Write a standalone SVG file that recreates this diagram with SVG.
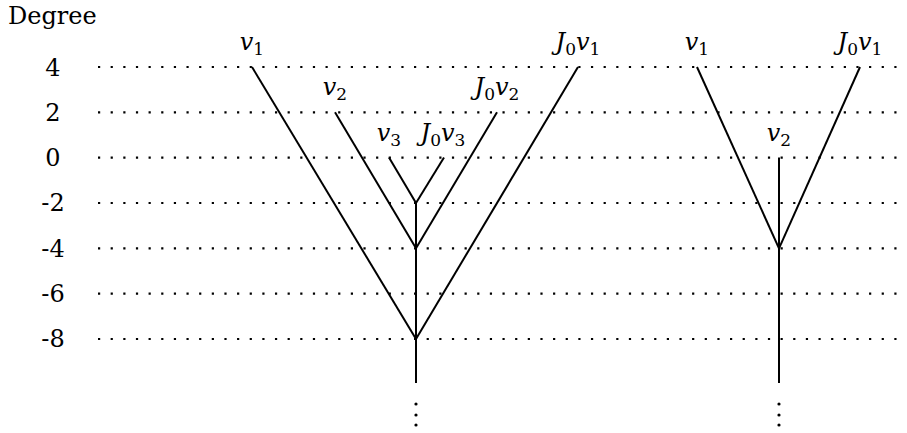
<svg xmlns="http://www.w3.org/2000/svg" width="907" height="433" viewBox="0 0 907 433">
<style>
  text { font-family: 'DejaVu Serif', 'Liberation Serif', serif; font-size: 24px; fill: #000; }
  .lab { text-anchor: middle; }
  .i { font-style: italic; }
  .sub { font-size: 17px; }
  .grid line { stroke: #000; stroke-width: 2.2; stroke-dasharray: 2.2 10.44; }
  .edge { stroke: #000; stroke-width: 2; fill: none; stroke-linecap: butt; }
  .num { text-anchor: middle; }
</style>
<rect width="907" height="433" fill="#fff"/>
<g id="axis-title"><text x="8" y="24" font-size="22">Degree</text></g>
<g id="degree-labels">
  <text class="num" x="53" y="76">4</text>
  <text class="num" x="53" y="121">2</text>
  <text class="num" x="53" y="166">0</text>
  <text class="num" x="53" y="211">-2</text>
  <text class="num" x="53" y="257">-4</text>
  <text class="num" x="53" y="302">-6</text>
  <text class="num" x="53" y="347">-8</text>
</g>
<g class="grid" id="grid">
  <line x1="98" y1="67" x2="900" y2="67"/>
  <line x1="98" y1="112.3" x2="900" y2="112.3"/>
  <line x1="98" y1="157.6" x2="900" y2="157.6"/>
  <line x1="98" y1="203" x2="900" y2="203"/>
  <line x1="98" y1="248.3" x2="900" y2="248.3"/>
  <line x1="98" y1="293.6" x2="900" y2="293.6"/>
  <line x1="98" y1="339" x2="900" y2="339"/>
</g>
<g id="connectors">
  <line class="edge" x1="252" y1="67" x2="416" y2="339"/>
  <line class="edge" x1="578" y1="67" x2="416" y2="339"/>
  <line class="edge" x1="335" y1="112.3" x2="416" y2="248.3"/>
  <line class="edge" x1="497" y1="112.3" x2="416" y2="248.3"/>
  <line class="edge" x1="389" y1="157.6" x2="416" y2="203"/>
  <line class="edge" x1="444" y1="157.6" x2="416" y2="203"/>
  <line class="edge" x1="416" y1="203" x2="416" y2="383"/>
  <line class="edge" x1="697" y1="67" x2="779" y2="248.3"/>
  <line class="edge" x1="860" y1="67" x2="779" y2="248.3"/>
  <line class="edge" x1="779" y1="157.6" x2="779" y2="383"/>
  <g fill="#000">
    <circle cx="416" cy="404" r="1.6"/>
    <circle cx="416" cy="415" r="1.6"/>
    <circle cx="416" cy="425" r="1.6"/>
    <circle cx="779" cy="404" r="1.6"/>
    <circle cx="779" cy="415" r="1.6"/>
    <circle cx="779" cy="425" r="1.6"/>
  </g>
</g>
<g id="labels">
<g id="node-L-v1"><text class="lab" x="252" y="50"><tspan class="i">v</tspan><tspan class="sub" dy="5">1</tspan></text></g>
<g id="node-L-J0v1"><text class="lab" x="578" y="50"><tspan class="i">J</tspan><tspan class="sub" dy="5">0</tspan><tspan class="i" dy="-5">v</tspan><tspan class="sub" dy="5">1</tspan></text></g>
<g id="node-L-v2"><text class="lab" x="335" y="95.3"><tspan class="i">v</tspan><tspan class="sub" dy="5">2</tspan></text></g>
<g id="node-L-J0v2"><text class="lab" x="497" y="95.3"><tspan class="i">J</tspan><tspan class="sub" dy="5">0</tspan><tspan class="i" dy="-5">v</tspan><tspan class="sub" dy="5">2</tspan></text></g>
<g id="node-L-v3"><text class="lab" x="389" y="140.6"><tspan class="i">v</tspan><tspan class="sub" dy="5">3</tspan></text></g>
<g id="node-L-J0v3"><text class="lab" x="443" y="140.6"><tspan class="i">J</tspan><tspan class="sub" dy="5">0</tspan><tspan class="i" dy="-5">v</tspan><tspan class="sub" dy="5">3</tspan></text></g>
<g id="node-R-v1"><text class="lab" x="697" y="50"><tspan class="i">v</tspan><tspan class="sub" dy="5">1</tspan></text></g>
<g id="node-R-J0v1"><text class="lab" x="860" y="50"><tspan class="i">J</tspan><tspan class="sub" dy="5">0</tspan><tspan class="i" dy="-5">v</tspan><tspan class="sub" dy="5">1</tspan></text></g>
<g id="node-R-v2"><text class="lab" x="779" y="140.6"><tspan class="i">v</tspan><tspan class="sub" dy="5">2</tspan></text></g>
</g>
</svg>
